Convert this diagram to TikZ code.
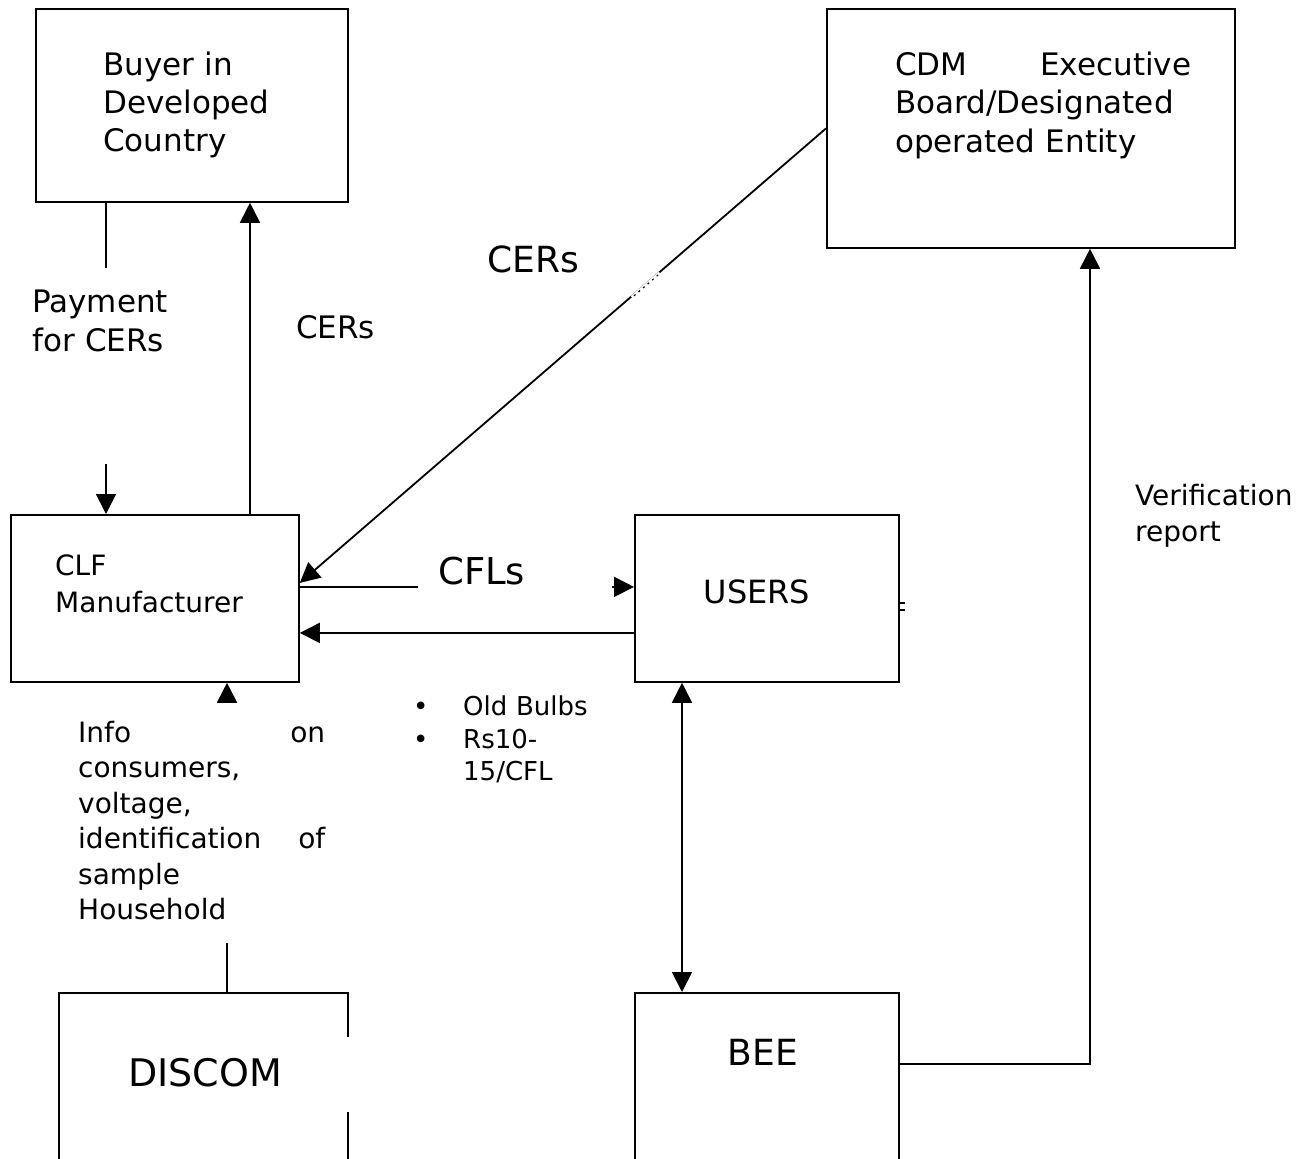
\documentclass[tikz,border=0pt]{standalone}
\usepackage{fontspec}
\setmainfont{DejaVu Sans}
\usetikzlibrary{arrows.meta}
\begin{document}
\begin{tikzpicture}[x=1pt,y=-1pt,
  box/.style={draw,line width=1.8pt,inner sep=0pt,anchor=north west},
  arr/.style={line width=1.8pt,-{Triangle[length=20pt,width=20pt]}},
  arrboth/.style={line width=1.8pt,{Triangle[length=20pt,width=20pt]}-{Triangle[length=20pt,width=20pt]}},
  ln/.style={line width=1.8pt},
  txt/.style={inner sep=0pt,anchor=base west,align=left},
  ctxt/.style={inner sep=0pt,anchor=base}]
\useasboundingbox (0,0) rectangle (1315,1159);
\clip (0,0) rectangle (1315,1159);
\fill[white] (0,0) rectangle (1315,1159);

% boxes
\node[box,minimum width=312pt,minimum height=193pt] (buyer) at (35,8) {};
\node[box,minimum width=408pt,minimum height=239pt] (cdm) at (826,8) {};
\node[box,minimum width=288pt,minimum height=167pt] (clf) at (10,514) {};
\node[box,minimum width=264pt,minimum height=167pt] (users) at (634,514) {};
\node[box,minimum width=289pt,minimum height=200pt] (discom) at (58,992) {};
\node[box,minimum width=264pt,minimum height=200pt] (bee) at (634,992) {};
\fill[white] (344,1037) rectangle (350,1112);

% coordinates
\coordinate (pay1) at (106,268);
\coordinate (pay2) at (106,464);
\coordinate (xa) at (250,0);
\coordinate (xb) at (682,0);
\coordinate (bc) at (1090,1064);
\coordinate (dis1) at (227,943);
\coordinate (dis2) at (227,702);

% connectors
\draw[ln] (buyer.south -| pay1) -- (pay1);
\draw[arr] (pay2) -- (clf.north -| pay2);
\draw[arr] (clf.north -| xa) -- (buyer.south -| xa);
\draw[arr] (cdm.west) -- ([yshift=15.5pt]clf.east);
\draw[white,line width=4pt] (632,297.5) -- (660,273.3);
\draw[line width=1.2pt,dash pattern=on 2pt off 4pt] (634,295.8) -- (658,275);
\draw[arr] ([yshift=11.5pt]clf.east) -- ([yshift=11.5pt]users.west);
\fill[white] (418,574) rectangle (612,598);
\draw[arr] ([yshift=-34.5pt]users.west) -- ([yshift=-34.5pt]clf.east);
\draw[arrboth] (users.south -| xb) -- (bee.north -| xb);
\draw[arr] (bc -| bee.east) -- (bc) -- (cdm.south -| bc);
\draw[ln] (discom.north -| dis1) -- (dis1);
\draw[arr] (dis2) -- (clf.south -| dis2);
\draw[ln] (users.east |- 0,603) -- +(5,0);
\draw[ln] (users.east |- 0,610) -- +(5,0);

% texts
\node[txt,font=\fontsize{31}{38}\selectfont,text width=240pt] (buyerT) at (103,75) {Buyer in\\Developed\\Country};
\node[txt,font=\fontsize{31}{38.5}\selectfont,text width=296pt] (cdmT) at (895,75) {CDM\hfill Executive\\Board/Designated\\operated Entity};
\node[txt,font=\fontsize{31}{39}\selectfont,text width=200pt] (payT) at (32,312) {Payment\\for CERs};
\node[txt,font=\fontsize{31}{38}\selectfont] (cersS) at (296,338) {CERs};
\node[txt,font=\fontsize{36}{44}\selectfont] (cersB) at (487,272) {CERs};
\node[txt,font=\fontsize{28}{36}\selectfont,text width=200pt] (verT) at (1135,505) {Verification\\report};
\node[txt,font=\fontsize{28}{37}\selectfont,text width=230pt] (clfT) at (55,575) {CLF\\Manufacturer};
\node[txt,font=\fontsize{37}{44}\selectfont] (cflT) at (438,584) {CFLs};
\node[ctxt,font=\fontsize{32}{38}\selectfont] (usersT) at (757,603) {USERS};
\node[txt,font=\fontsize{26}{32}\selectfont] (b1) at (413,715) {•};
\node[txt,font=\fontsize{26}{32}\selectfont] (b2) at (413,748) {•};
\node[txt,font=\fontsize{26}{32.5}\selectfont,text width=150pt] (oldT) at (463,715) {Old Bulbs};
\node[txt,font=\fontsize{26}{32.5}\selectfont,text width=150pt] (rsT) at (463,748) {Rs10-\\15/CFL};
\node[txt,font=\fontsize{28}{35.5}\selectfont,text width=247pt] (infoT) at (78,742) {Info\hfill on\\consumers,\\voltage,\\identification\hfill of\\sample\\Household};
\node[ctxt,font=\fontsize{38}{44}\selectfont] (discomT) at (205,1086) {DISCOM};
\node[ctxt,font=\fontsize{36}{44}\selectfont] (beeT) at (763,1065) {BEE};
\end{tikzpicture}
\end{document}
